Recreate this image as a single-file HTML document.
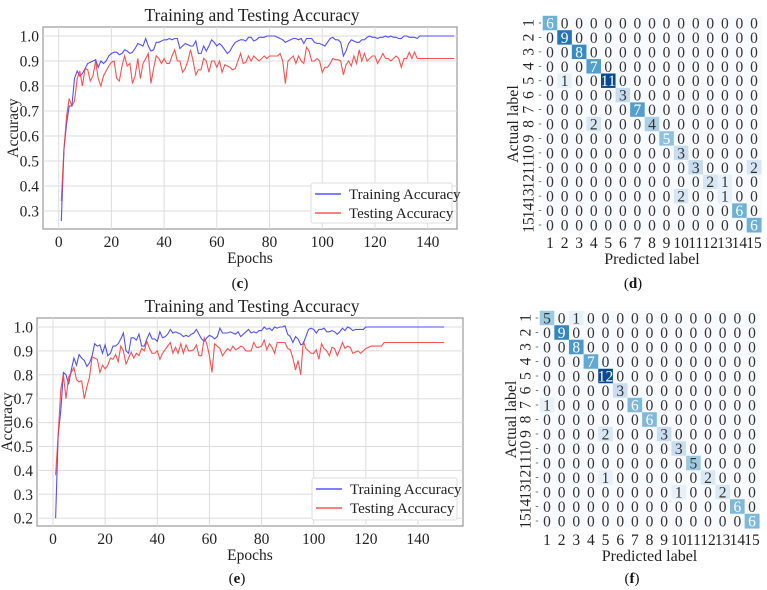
<!DOCTYPE html>
<html><head><meta charset="utf-8"><style>
html,body{margin:0;padding:0;background:#fff;}
svg{display:block;font-family:"Liberation Serif",serif;}
</style></head><body>
<svg id="root" width="767" height="590" viewBox="0 0 767 590" xmlns="http://www.w3.org/2000/svg"></svg>
<script>
const epochs = Array.from({length:150},(_,i)=>i+1);
const trainC = [0.26,0.55,0.65,0.72,0.72,0.83,0.86,0.84,0.85,0.87,0.89,0.895,0.9,0.905,0.875,0.9,0.89,0.9,0.92,0.93,0.935,0.935,0.925,0.93,0.945,0.94,0.93,0.935,0.95,0.97,0.965,0.96,0.99,0.96,0.94,0.945,0.975,0.975,0.98,0.985,0.985,0.99,0.985,0.99,0.99,0.95,0.96,0.97,0.965,0.96,0.96,0.98,0.93,0.93,0.96,0.94,0.96,0.985,0.975,0.96,0.97,0.96,0.945,0.93,0.94,0.96,0.975,0.98,0.985,0.985,0.98,0.995,0.995,0.98,0.985,0.995,0.995,0.995,1,1,1,1,0.995,0.99,0.985,0.975,0.98,0.985,0.99,0.99,0.985,0.99,0.97,0.99,0.99,0.99,0.975,0.97,0.97,0.965,0.96,0.975,0.99,0.995,0.985,0.985,0.975,0.92,0.94,0.97,0.985,0.98,0.975,0.975,0.985,0.985,0.995,1,0.995,0.995,0.99,0.995,0.995,1,0.995,1,0.995,0.995,0.99,0.99,1,1,0.995,0.995,0.995,0.99,1,1,1,1,1,1,1,1,1,1,1,1,1,1];
const testC = [0.34,0.55,0.68,0.75,0.72,0.74,0.83,0.86,0.8,0.87,0.865,0.82,0.84,0.9,0.83,0.8,0.84,0.86,0.88,0.895,0.9,0.83,0.82,0.88,0.92,0.88,0.89,0.81,0.84,0.91,0.83,0.89,0.91,0.93,0.81,0.87,0.92,0.91,0.89,0.91,0.89,0.89,0.92,0.945,0.9,0.9,0.855,0.87,0.9,0.945,0.9,0.845,0.865,0.865,0.91,0.9,0.855,0.9,0.9,0.875,0.9,0.855,0.885,0.88,0.875,0.865,0.87,0.9,0.93,0.89,0.895,0.92,0.9,0.92,0.91,0.9,0.91,0.92,0.91,0.92,0.92,0.92,0.92,0.93,0.9,0.81,0.9,0.91,0.92,0.89,0.92,0.9,0.89,0.955,0.94,0.9,0.9,0.91,0.9,0.855,0.875,0.875,0.89,0.91,0.905,0.905,0.9,0.845,0.885,0.9,0.88,0.92,0.89,0.945,0.9,0.93,0.9,0.91,0.92,0.92,0.89,0.91,0.93,0.91,0.91,0.9,0.91,0.92,0.91,0.875,0.91,0.91,0.935,0.91,0.935,0.91,0.91,0.91,0.91,0.91,0.91,0.91,0.91,0.91,0.91,0.91,0.91,0.91,0.91,0.91];
const trainE = [0.2,0.55,0.65,0.81,0.8,0.76,0.82,0.87,0.84,0.885,0.87,0.86,0.835,0.85,0.88,0.93,0.92,0.925,0.89,0.925,0.88,0.89,0.92,0.92,0.93,0.95,0.975,0.9,0.89,0.955,0.955,0.945,0.97,0.92,0.92,0.95,0.975,0.95,0.95,0.94,0.98,0.955,0.96,0.97,0.99,0.975,0.98,0.975,0.97,0.96,0.965,0.96,0.97,0.975,0.99,0.97,0.95,0.94,0.955,0.965,0.96,0.95,0.96,0.995,0.975,0.975,0.975,0.98,0.975,0.97,0.98,0.96,0.97,0.98,0.99,0.975,0.98,0.975,0.985,0.985,1,0.99,0.995,0.985,1,0.995,1,1,1.005,0.97,0.96,0.935,0.96,0.95,0.925,0.93,0.96,0.99,0.995,0.99,0.975,0.99,0.99,0.995,0.98,0.98,0.985,0.98,0.97,0.98,0.995,0.985,1,0.995,0.985,0.99,0.99,0.99,0.99,1,1,1,1,1,1,1,1,1,1,1,1,1,1,1,1,1,1,1,1,1,1,1,1,1,1,1,1,1,1,1];
const testE = [0.38,0.55,0.74,0.8,0.7,0.79,0.81,0.83,0.78,0.77,0.775,0.7,0.75,0.79,0.875,0.87,0.865,0.81,0.84,0.825,0.84,0.87,0.865,0.885,0.855,0.92,0.9,0.845,0.87,0.895,0.87,0.89,0.88,0.91,0.9,0.94,0.91,0.89,0.89,0.9,0.865,0.89,0.905,0.92,0.935,0.89,0.915,0.89,0.93,0.89,0.925,0.9,0.9,0.905,0.925,0.88,0.88,0.955,0.93,0.88,0.81,0.93,0.92,0.91,0.88,0.895,0.91,0.9,0.92,0.905,0.91,0.92,0.915,0.9,0.9,0.9,0.935,0.915,0.915,0.92,0.945,0.905,0.93,0.915,0.89,0.935,0.935,0.935,0.935,0.91,0.905,0.87,0.82,0.86,0.8,0.94,0.91,0.9,0.89,0.89,0.905,0.865,0.93,0.91,0.9,0.88,0.915,0.91,0.88,0.905,0.935,0.91,0.92,0.915,0.89,0.895,0.9,0.89,0.9,0.91,0.915,0.92,0.92,0.92,0.92,0.92,0.935,0.935,0.935,0.935,0.935,0.935,0.935,0.935,0.935,0.935,0.935,0.935,0.935,0.935,0.935,0.935,0.935,0.935,0.935,0.935,0.935,0.935,0.935,0.935];
const xTicks = [0,20,40,60,80,100,120,140];
const yTicksC = [0.3,0.4,0.5,0.6,0.7,0.8,0.9,1.0];
const yTicksE = [0.2,0.3,0.4,0.5,0.6,0.7,0.8,0.9,1.0];
const classLabels = ["1","2","3","4","5","6","7","8","9","10","11","12","13","14","15"];
const cmD = [
[6,0,0,0,0,0,0,0,0,0,0,0,0,0,0],
[0,9,0,0,0,0,0,0,0,0,0,0,0,0,0],
[0,0,8,0,0,0,0,0,0,0,0,0,0,0,0],
[0,0,0,7,0,0,0,0,0,0,0,0,0,0,0],
[0,1,0,0,11,0,0,0,0,0,0,0,0,0,0],
[0,0,0,0,0,3,0,0,0,0,0,0,0,0,0],
[0,0,0,0,0,0,7,0,0,0,0,0,0,0,0],
[0,0,0,2,0,0,0,4,0,0,0,0,0,0,0],
[0,0,0,0,0,0,0,0,5,0,0,0,0,0,0],
[0,0,0,0,0,0,0,0,0,3,0,0,0,0,0],
[0,0,0,0,0,0,0,0,0,0,3,0,0,0,2],
[0,0,0,0,0,0,0,0,0,0,0,2,1,0,0],
[0,0,0,0,0,0,0,0,0,2,0,0,1,0,0],
[0,0,0,0,0,0,0,0,0,0,0,0,0,6,0],
[0,0,0,0,0,0,0,0,0,0,0,0,0,0,6]];
const cmF = [
[5,0,1,0,0,0,0,0,0,0,0,0,0,0,0],
[0,9,0,0,0,0,0,0,0,0,0,0,0,0,0],
[0,0,8,0,0,0,0,0,0,0,0,0,0,0,0],
[0,0,0,7,0,0,0,0,0,0,0,0,0,0,0],
[0,0,0,0,12,0,0,0,0,0,0,0,0,0,0],
[0,0,0,0,0,3,0,0,0,0,0,0,0,0,0],
[1,0,0,0,0,0,6,0,0,0,0,0,0,0,0],
[0,0,0,0,0,0,0,6,0,0,0,0,0,0,0],
[0,0,0,0,2,0,0,0,3,0,0,0,0,0,0],
[0,0,0,0,0,0,0,0,0,3,0,0,0,0,0],
[0,0,0,0,0,0,0,0,0,0,5,0,0,0,0],
[0,0,0,0,1,0,0,0,0,0,0,2,0,0,0],
[0,0,0,0,0,0,0,0,0,1,0,0,2,0,0],
[0,0,0,0,0,0,0,0,0,0,0,0,0,6,0],
[0,0,0,0,0,0,0,0,0,0,0,0,0,0,6]];

const NS="http://www.w3.org/2000/svg";
const root=document.getElementById('root');
function el(tag,attrs,parent,text){const e=document.createElementNS(NS,tag);for(const k in attrs)e.setAttribute(k,attrs[k]);if(text!==undefined)e.textContent=text;(parent||root).appendChild(e);return e;}

function caption(letter,x,y){
  const cap=el('text',{x:x,y:y,'text-anchor':'middle','font-size':15,fill:'#111'});
  
  
  const a=document.createElementNS(NS,'tspan');a.textContent='(';cap.appendChild(a);
  const b=document.createElementNS(NS,'tspan');b.setAttribute('font-weight','bold');b.textContent=letter;cap.appendChild(b);
  const c=document.createElementNS(NS,'tspan');c.textContent=')';cap.appendChild(c);
}

function lineChart(cfg){
  const g=el('g',{});
  
  
  const xs=v=>cfg.x0+(v-0)*(cfg.x140-cfg.x0)/140;
  const ys=v=>cfg.y1+(1-v)*cfg.pp*10;
  el('rect',{x:cfg.L,y:cfg.T,width:cfg.R-cfg.L,height:cfg.B-cfg.T,fill:'#fff',stroke:'#999','stroke-width':1.2},g);
  for(const t of cfg.yt){
    const y=ys(t);
    el('line',{x1:cfg.L,x2:cfg.R,y1:y,y2:y,stroke:'#ddd','stroke-width':1},g);
    const tl=el('text',{x:cfg.L-4,y:y+5.5,'text-anchor':'end','font-size':15.5,fill:'#222'},g,t.toFixed(1));
    
    
  }
  for(const t of xTicks){
    const x=xs(t);
    el('line',{x1:x,x2:x,y1:cfg.T,y2:cfg.B,stroke:'#ddd','stroke-width':1},g);
    const tl=el('text',{x:x,y:cfg.B+18,'text-anchor':'middle','font-size':15.5,fill:'#222'},g,String(t));
    
    
  }
  const series=[[cfg.train,'#3333ff','training-accuracy-line'],[cfg.test,'#ff3333','testing-accuracy-line']];
  for(const [d,c,n] of series){
    const pts=d.map((v,i)=>xs(epochs[i]).toFixed(1)+','+ys(v).toFixed(1)).join(' ');
    const p=el('polyline',{points:pts,fill:'none',stroke:c,'stroke-width':1.1,'stroke-opacity':0.85},g);
    
    
  }
  const t=el('text',{x:(cfg.L+cfg.R)/2+2,y:cfg.T-6,'text-anchor':'middle','font-size':17.5,fill:'#222'},g,'Training and Testing Accuracy');
  
  
  const xl=el('text',{x:(cfg.L+cfg.R)/2,y:cfg.B+34,'text-anchor':'middle','font-size':15.5,fill:'#222'},g,'Epochs');
  
  
  const yc=(cfg.T+cfg.B)/2;
  const yl=el('text',{x:cfg.yLabX,y:yc,'text-anchor':'middle','font-size':15.5,fill:'#222',transform:`rotate(-90 ${cfg.yLabX} ${yc})`},g,'Accuracy');
  
  
  const lg=el('g',{},g);
  
  
  el('rect',{x:cfg.lg[0],y:cfg.lg[1],width:cfg.lg[2],height:cfg.lg[3],fill:'#fff',stroke:'#ddd',rx:2},lg);
  const ents=[['Training Accuracy','#3333ff'],['Testing Accuracy','#ff3333']];
  ents.forEach((e,i)=>{
    const yy=cfg.lg[1]+11+i*19;
    el('line',{x1:cfg.lg[0]+4,x2:cfg.lg[0]+30,y1:yy,y2:yy,stroke:e[1],'stroke-width':1.3},lg);
    const tx=el('text',{x:cfg.lg[0]+38,y:yy+5,'font-size':15,fill:'#222'},lg,e[0]);
    
    
  });
  caption(cfg.cap,cfg.capX,cfg.capY);
}

lineChart({name:'accuracy-chart-c',L:43,R:457,T:27,B:229,x0:58.7,x140:427.7,y1:36,pp:25,yt:yTicksC,train:trainC,test:testC,yLabX:18,lg:[311,183,141,40],cap:'c',capX:240,capY:288});
lineChart({name:'accuracy-chart-e',L:37,R:463,T:318,B:526,x0:53,x140:418,y1:327,pp:23.9,yt:yTicksE,train:trainE,test:testE,yLabX:12,lg:[312,478,145,42],cap:'e',capX:237,capY:583});

const blues=['#f7fbff','#deebf7','#c6dbef','#9ecae1','#6baed6','#4292c6','#2171b5','#08519c','#08306b'];
function blue(t){const p=t*8;const i=Math.min(7,Math.floor(p));const f=p-i;const a=blues[i],b=blues[i+1];const c=k=>Math.round(parseInt(a.substr(k,2),16)*(1-f)+parseInt(b.substr(k,2),16)*f);return `rgb(${c(1)},${c(3)},${c(5)})`;}

function confMat(cfg){
  const g=el('g',{});
  
  
  const m=cfg.data;const mx=Math.max(...m.flat());
  const cw=cfg.cw,ch=cfg.ch;
  const xc=j=>cfg.cx0+j*cw, yc=i=>cfg.cy0+i*ch;
  m.forEach((row,i)=>row.forEach((v,j)=>{
    const r=el('rect',{x:xc(j)-cw/2,y:yc(i)-ch/2,width:cw+0.3,height:ch+0.3,fill:blue(v/mx*0.9)},g);
    
    
    el('text',{x:xc(j),y:yc(i)+5.5,'text-anchor':'middle','font-size':15.5,fill:v>mx*0.45?'#fff':'#333'},g,String(v));
  }));
  classLabels.forEach((l,k)=>{
    const tx=el('text',{x:xc(k),y:cfg.xtY,'text-anchor':'middle','font-size':15.5,fill:'#222'},g,l);
    
    
    const y=yc(k);const x=cfg.cx0-cw/2-9;
    const ty=el('text',{x:x,y:y,'text-anchor':'middle','font-size':15.5,fill:'#222',transform:`rotate(-90 ${x} ${y})`},g,l);
    
    
    el('line',{x1:cfg.cx0-cw/2-4,x2:cfg.cx0-cw/2-1.5,y1:y,y2:y,stroke:'#555','stroke-width':0.8},g);
  });
  const xl=el('text',{x:cfg.cx0+7*cw,y:cfg.xtY+16,'text-anchor':'middle','font-size':16,fill:'#222'},g,'Predicted label');
  
  
  const ym=cfg.cy0+7*ch;
  const yl=el('text',{x:cfg.yLabX,y:ym,'text-anchor':'middle','font-size':16,fill:'#222',transform:`rotate(-90 ${cfg.yLabX} ${ym})`},g,'Actual label');
  
  
  caption(cfg.cap,cfg.capX,cfg.capY);
}
confMat({name:'confusion-matrix-d',data:cmD,cx0:550,cy0:23,cw:14.57,ch:14.43,xtY:248,yLabX:518,cap:'d',capX:633,capY:288});
confMat({name:'confusion-matrix-f',data:cmF,cx0:547,cy0:318,cw:14.64,ch:14.5,xtY:545,yLabX:516,cap:'f',capX:632,capY:583});
</script>
</body></html>
